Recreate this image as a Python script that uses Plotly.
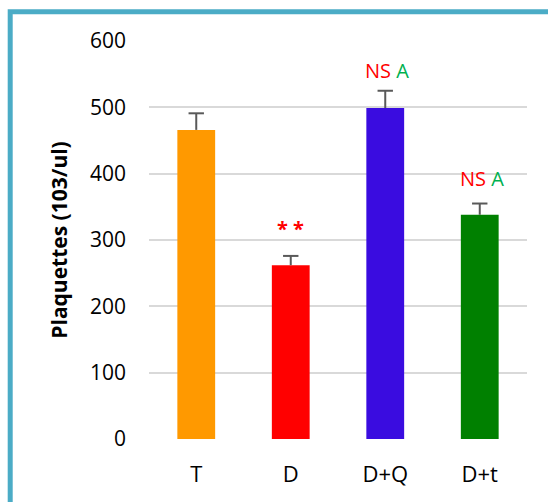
import plotly.graph_objects as go

categories = ["T", "D", "D+Q", "D+t"]
values = [466, 262, 499, 338]
errors = [25, 14, 26, 17]
bar_colors = ["#FF9900", "#FF0000", "#3A0CE0", "#008000"]
y_ticks = [0, 100, 200, 300, 400, 500, 600]

# significance labels: (category, y value, text)
sig_labels = [
    ("D", 318, "<b>* *</b>"),
    ("D+Q", 556, "<span style='color:#FF0000'>NS</span> <span style='color:#00B050'>A</span>"),
    ("D+t", 392, "<span style='color:#FF0000'>NS</span> <span style='color:#00B050'>A</span>"),
]

err_tops = [v + e for v, e in zip(values, errors)]

fig = go.Figure()
fig.add_trace(go.Bar(
    x=categories, y=values,
    marker=dict(color=bar_colors, line=dict(width=0)),
    width=0.4,
))
# upper error bars: stem from bar top to error top, cap only at top
fig.add_trace(go.Scatter(
    x=categories, y=err_tops, mode="markers",
    marker=dict(symbol="line-ew-open", size=11, color="#595959",
                line=dict(color="#595959", width=2)),
    error_y=dict(type="data", symmetric=False, array=[0]*4, arrayminus=errors,
                 color="#595959", thickness=2, width=0),
    hoverinfo="skip",
))

for cat, yv, txt in sig_labels:
    fig.add_annotation(x=cat, y=yv, text=txt, showarrow=False,
                       font=dict(family="Open Sans", size=20, color="#FF0000"),
                       xshift=2 if cat != "D" else 0)

W, H = 548, 502
L, R, T, B = 149, 21, 41, 63
pw, ph = W - L - R, H - T - B

def px_to_paper_x(px):
    return (px - L) / pw

def px_to_paper_y(py):
    return (H - B - py) / ph

fig.add_shape(type="rect", xref="paper", yref="paper",
              x0=px_to_paper_x(10.2), x1=px_to_paper_x(570),
              y0=px_to_paper_y(530), y1=px_to_paper_y(11.7),
              line=dict(color="#4BACC6", width=5), fillcolor="rgba(0,0,0,0)",
              layer="above")

fig.update_layout(
    width=W, height=H,
    margin=dict(l=L, r=R, t=T, b=B),
    paper_bgcolor="white", plot_bgcolor="white",
    showlegend=False,
    font=dict(family="Open Sans", size=20, color="#000000"),
    xaxis=dict(showline=False, showgrid=False, zeroline=False, ticks="",
               ticklabelstandoff=20, tickfont=dict(size=22)),
    yaxis=dict(range=[0, 600], tickvals=y_ticks, showgrid=True,
               gridcolor="#D9D9D9", gridwidth=1.5, zeroline=False, showline=False,
               ticks="", ticklabelstandoff=22, tickfont=dict(size=21),
               title=dict(text="<b>Plaquettes (103/ul)</b>", standoff=16,
                          font=dict(size=21))),
)

fig.write_html("out.html", config={"displayModeBar": False},
               post_script="document.body.style.margin='0';document.body.style.overflow='hidden';")
